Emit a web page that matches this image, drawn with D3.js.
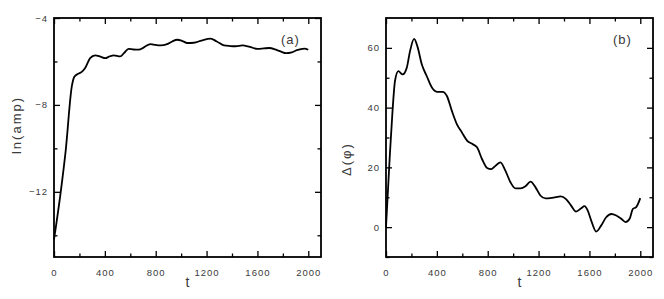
<!DOCTYPE html>
<html>
<head>
<meta charset="utf-8">
<script src="https://cdn.jsdelivr.net/npm/d3@7"></script>
<style>
  html, body { margin: 0; padding: 0; background: #fff; }
  svg { display: block; }
</style>
</head>
<body>
<div id="chart"></div>
<script>
// ---- data ----
const tA = [0, 53, 92, 140, 160, 190, 218, 245, 284, 324, 365, 403, 440, 470, 521, 550, 587, 625, 666,
  710, 758, 800, 837, 890, 930, 969, 1010, 1048, 1100, 1160, 1232, 1280, 1337, 1385, 1429, 1482, 1540,
  1600, 1650, 1692, 1750, 1790, 1824, 1870, 1910, 1942, 1970, 2000];
const lnAmp = [-14.2, -12, -10.1, -7.15, -6.7, -6.57, -6.48, -6.3, -5.85, -5.72, -5.78, -5.85, -5.76,
  -5.72, -5.77, -5.62, -5.42, -5.45, -5.46, -5.34, -5.2, -5.24, -5.26, -5.2, -5.08, -5.0, -5.06, -5.15,
  -5.14, -5.04, -4.95, -5.08, -5.26, -5.29, -5.3, -5.26, -5.33, -5.42, -5.4, -5.38, -5.47, -5.56, -5.62,
  -5.58, -5.48, -5.43, -5.41, -5.46];

const tB = [0, 30, 50, 71, 97, 131, 163, 189, 221, 247, 282, 321, 361, 400, 447, 479, 518, 558, 597, 639,
  680, 716, 755, 795, 827, 861, 900, 939, 979, 1018, 1058, 1097, 1137, 1176, 1216, 1255, 1318, 1374,
  1416, 1456, 1495, 1535, 1561, 1587, 1614, 1653, 1692, 1732, 1772, 1811, 1850, 1884, 1916, 1942,
  1968, 2000];
const dPhi = [0, 24, 38, 49, 52.2, 51.1, 53.3, 58.9, 63, 60.5, 54.4, 50.5, 46.7, 45.3, 45.3, 43.9, 38.9,
  34.4, 31.7, 28.9, 27.8, 26.7, 22.8, 19.8, 19.4, 20.5, 21.7, 18.9, 15, 13, 13, 13.7, 15.2, 13.3, 10.5,
  9.6, 9.9, 10.3, 9.4, 7.2, 5.2, 6.3, 7, 5.5, 2.2, -1.5, 0.5, 3.3, 4.4, 3.9, 2.8, 1.7, 2.8, 6.1, 6.7, 9.7];

const xMajor = [0, 400, 800, 1200, 1600, 2000];
const xMinor = [200, 600, 1000, 1400, 1800];
const yMajorA = [-4, -8, -12];
const yMinorA = [-6, -10, -14];
const yMajorB = [0, 20, 40, 60];
const yMinorB = [-10, 10, 30, 50];

// ---- layout ----
const W = 664, H = 299;
const plotTop = 18, plotBottom = 257;

const panels = [
  { left: 54, right: 321, x: tA, y: lnAmp, yDomain: [-15, -4], yMajor: yMajorA, yMinor: yMinorA,
    tag: '(a)', yLabel: 'ln(amp)', yLabelX: 16, yLabelY: 125 },
  { left: 386, right: 653, x: tB, y: dPhi, yDomain: [-10, 70], yMajor: yMajorB, yMinor: yMinorB,
    tag: '(b)', yLabel: 'Δ(φ)', yLabelX: 346, yLabelY: 159 },
];

const svg = d3.select('#chart').append('svg')
  .attr('width', W).attr('height', H)
  .attr('font-family', "'Liberation Sans', Arial, sans-serif");

const TEXT = '#3a3a3a';

panels.forEach(p => {
  const x = d3.scaleLinear().domain([0, 2100]).range([p.left, p.right]);
  const y = d3.scaleLinear().domain(p.yDomain).range([plotBottom, plotTop]);
  const g = svg.append('g');

  // inward ticks on all four sides
  const addAxis = (axisFn, scale, vals, len, tr, labels) => {
    const ax = g.append('g').attr('transform', tr)
      .call(axisFn(scale).tickValues(vals).tickSize(-len).tickPadding(len + 6)
        .tickFormat(labels ? d3.format('d') : ''));
    ax.select('.domain').remove();
    ax.selectAll('line').attr('stroke', '#000').attr('stroke-width', 1.3);
    ax.selectAll('text').attr('fill', TEXT).attr('font-size', 9.5).attr('letter-spacing', 1);
    return ax;
  };
  addAxis(d3.axisBottom, x, xMajor, 6, `translate(0,${plotBottom})`, true);
  addAxis(d3.axisBottom, x, xMinor, 3.5, `translate(0,${plotBottom})`, false);
  addAxis(d3.axisTop, x, xMajor, 6, `translate(0,${plotTop})`, false);
  addAxis(d3.axisTop, x, xMinor, 3.5, `translate(0,${plotTop})`, false);
  addAxis(d3.axisLeft, y, p.yMajor, 6, `translate(${p.left},0)`, true)
    .selectAll('text').attr('x', -6);
  addAxis(d3.axisLeft, y, p.yMinor, 3.5, `translate(${p.left},0)`, false);
  addAxis(d3.axisRight, y, p.yMajor, 6, `translate(${p.right},0)`, false);
  addAxis(d3.axisRight, y, p.yMinor, 3.5, `translate(${p.right},0)`, false);

  g.append('rect')
    .attr('x', p.left).attr('y', plotTop)
    .attr('width', p.right - p.left).attr('height', plotBottom - plotTop)
    .attr('fill', 'none').attr('stroke', '#000').attr('stroke-width', 1.8);

  const pts = p.x.map((t, i) => [t, p.y[i]]);
  g.append('path')
    .datum(pts)
    .attr('fill', 'none')
    .attr('stroke', '#000')
    .attr('stroke-width', 1.8)
    .attr('stroke-linejoin', 'round')
    .attr('d', d3.line().x(d => x(d[0])).y(d => y(d[1])).curve(d3.curveMonotoneX));

  g.append('text')
    .attr('x', x(1860)).attr('y', 44)
    .attr('text-anchor', 'middle')
    .attr('font-size', 13).attr('letter-spacing', 1)
    .attr('fill', TEXT)
    .text(p.tag);

  g.append('text')
    .attr('x', (p.left + p.right) / 2).attr('y', 287)
    .attr('text-anchor', 'middle')
    .attr('font-size', 14)
    .attr('fill', TEXT)
    .text('t');

  g.append('text')
    .attr('transform', `translate(${p.yLabelX},${p.yLabelY}) rotate(-90)`)
    .attr('text-anchor', 'middle')
    .attr('dy', '0.35em')
    .attr('font-size', 13).attr('letter-spacing', 2)
    .attr('fill', TEXT)
    .text(p.yLabel);
});
</script>
</body>
</html>
